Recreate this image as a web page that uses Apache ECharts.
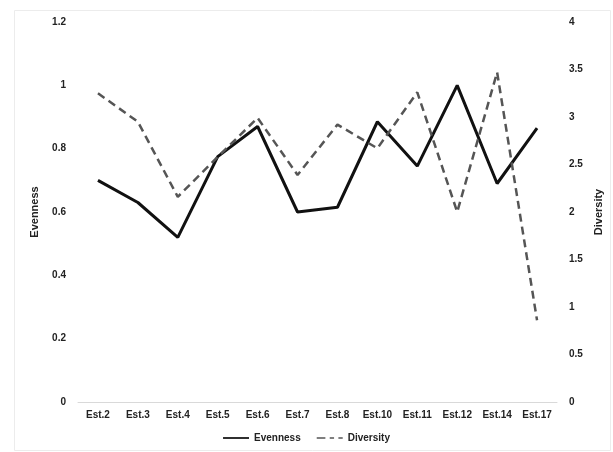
<!DOCTYPE html>
<html><head><meta charset="utf-8">
<script src="https://cdn.jsdelivr.net/npm/echarts@6/dist/echarts.min.js"></script>
<style>html,body{margin:0;padding:0;background:#fff}#c{width:613px;height:452px}</style>
</head><body><div id="c"></div>
<script>
const categories = ['Est.2','Est.3','Est.4','Est.5','Est.6','Est.7','Est.8','Est.10','Est.11','Est.12','Est.14','Est.17'];
const evenness = [0.70, 0.63, 0.52, 0.775, 0.87, 0.60, 0.615, 0.885, 0.745, 1.0, 0.69, 0.865];
const diversity = [3.25, 2.95, 2.16, 2.58, 2.99, 2.39, 2.92, 2.67, 3.26, 2.0, 3.47, 0.86];
const leftTicks = [0, 0.2, 0.4, 0.6, 0.8, 1, 1.2];
const rightTicks = [0, 0.5, 1, 1.5, 2, 2.5, 3, 3.5, 4];

const font = 'Liberation Sans';
const chart = echarts.init(document.getElementById('c'));
chart.setOption({
  backgroundColor: '#fff',
  animation: false,
  textStyle: {fontFamily: font},
  graphic: [{type: 'rect', left: 12, top: 8, shape: {width: 596, height: 440},
    style: {fill: 'none', stroke: '#ececec', lineWidth: 1}, silent: true}],
  grid: {left: 78, right: 56, top: 22, bottom: 50},
  legend: {
    bottom: 4, left: 'center', itemWidth: 26, itemHeight: 10, itemGap: 16,
    textStyle: {fontSize: 10, fontWeight: 'bold', color: '#222', fontFamily: font},
    data: [
      {name: 'Evenness', icon: 'path://M0,4 L30,4 L30,6 L0,6 Z', itemStyle: {color: '#111'}},
      {name: 'Diversity', icon: 'path://M0,4 L10,4 L10,6 L0,6 Z M15,4 L20,4 L20,6 L15,6 Z M25,4 L30,4 L30,6 L25,6 Z', itemStyle: {color: '#555'}}
    ]
  },
  xAxis: {
    type: 'category', data: categories, boundaryGap: true,
    axisLine: {lineStyle: {color: '#d9d9d9', width: 1}},
    axisTick: {show: false},
    axisLabel: {fontSize: 10, fontWeight: 'bold', color: '#222', margin: 8, interval: 0}
  },
  yAxis: [
    {type: 'value', min: 0, max: 1.2, interval: 0.2, name: 'Evenness',
     nameLocation: 'middle', nameGap: 38, nameRotate: 90,
     nameTextStyle: {fontSize: 11, fontWeight: 'bold', color: '#222'},
     axisLine: {show: false}, axisTick: {show: false}, splitLine: {show: false},
     axisLabel: {fontSize: 10, fontWeight: 'bold', color: '#222', margin: 12,
       formatter: v => { const t = leftTicks.find(x => Math.abs(x - v) < 1e-6); return t === undefined ? '' : String(t); }}},
    {type: 'value', min: 0, max: 4, interval: 0.5, name: 'Diversity',
     nameLocation: 'middle', nameGap: 36, nameRotate: 90,
     nameTextStyle: {fontSize: 11, fontWeight: 'bold', color: '#222'},
     axisLine: {show: false}, axisTick: {show: false}, splitLine: {show: false},
     axisLabel: {fontSize: 10, fontWeight: 'bold', color: '#222', margin: 12,
       formatter: v => { const t = rightTicks.find(x => Math.abs(x - v) < 1e-6); return t === undefined ? '' : String(t); }}}
  ],
  series: [
    {name: 'Evenness', type: 'line', yAxisIndex: 0, data: evenness, symbol: 'none',
     lineStyle: {color: '#111', width: 3}, itemStyle: {color: '#111'}},
    {name: 'Diversity', type: 'line', yAxisIndex: 1, data: diversity, symbol: 'none',
     lineStyle: {color: '#555', width: 2.5, type: [8, 5]}, itemStyle: {color: '#555'}}
  ]
});
</script></body></html>
